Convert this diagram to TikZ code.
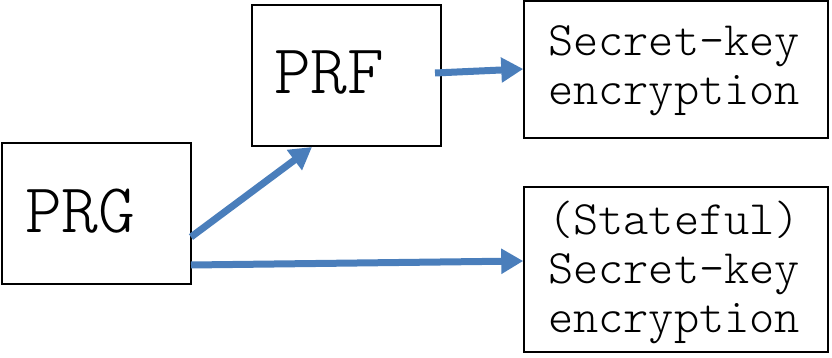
\documentclass[tikz,border=0pt]{standalone}
\usepackage{fontspec}
\newfontfamily\lightmono{Latin Modern Mono Light}
\usetikzlibrary{arrows.meta}
\definecolor{arrblue}{HTML}{4A7EBB}
\tikzset{
  box/.style={draw=black, line width=1.5pt, inner sep=0pt},
  big/.style={font=\lightmono\fontsize{70}{70}\selectfont, inner sep=0pt, anchor=base west},
  small/.style={font=\lightmono\fontsize{48}{49}\selectfont, align=center, inner sep=0pt},
  arr/.style={draw=arrblue, line width=7pt, -{Triangle[length=22pt,width=24pt]}}
}
\begin{document}
\begin{tikzpicture}[x=1pt,y=-1pt]
\useasboundingbox (0,0) rectangle (832,358);
% boxes
\node[box, minimum width=189pt, minimum height=141pt] (prg) at (96.5,213.5) {};
\node[box, minimum width=189pt, minimum height=141pt] (prf) at (346.5,75.5) {};
\node[box, minimum width=304pt, minimum height=137pt] (ske) at (676,69.5) {};
\node[box, minimum width=304pt, minimum height=165pt] (sske) at (676,269.5) {};
% texts
\node[big] (prgt) at (25,232) {PRG};
\node[big] (prft) at (274,94) {PRF};
\node[small] (sket) at (674,71) {Secret-key\\encryption};
\node[small] (ssket) at (674,272) {(Stateful)\\Secret-key\\encryption};
% arrow endpoints
\coordinate (a1s) at (435,73);
\coordinate (a2s) at (191,237);
\coordinate (a3s) at (191,265);
\draw[arr] (a1s) -- (ske.west|-0,69);
\draw[arr] (a2s) -- (312,147);
\draw[arr] (a3s) -- (sske.west|-0,261);
\end{tikzpicture}
\end{document}
